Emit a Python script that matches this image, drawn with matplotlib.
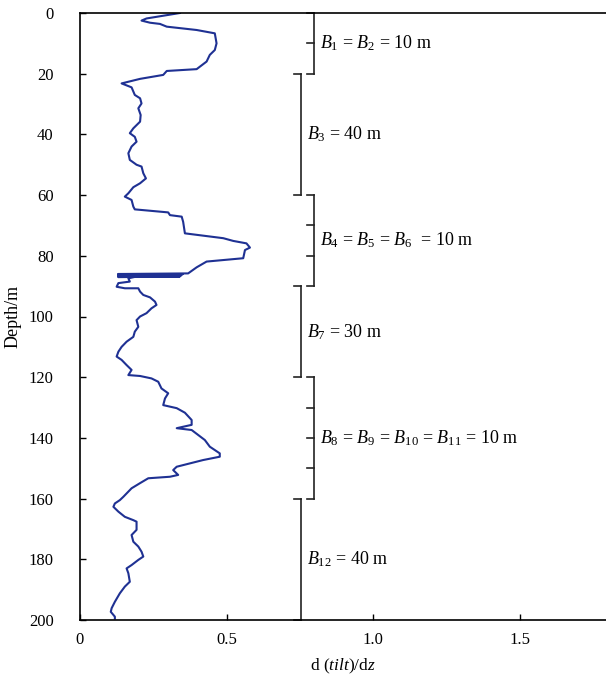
import matplotlib
matplotlib.use("Agg")
import matplotlib.pyplot as plt

plt.rcParams['font.family'] = ['Liberation Serif', 'DejaVu Serif']
plt.rcParams['mathtext.fontset'] = 'custom'
plt.rcParams['mathtext.rm'] = 'Liberation Serif'
plt.rcParams['mathtext.it'] = 'Liberation Serif:italic'

# d(tilt)/dz profile
depth = [0, 1.8, 2.5, 3.2, 3.6, 4.5, 5.6, 6.7, 10, 12.2, 13.8, 16, 18.5, 19.1, 20.4,
         21.7, 23.2, 24.5, 27, 28.1, 29.8, 31.4, 33.6, 35.8, 38, 39.6, 40.8, 42.4,
         44, 46.2, 48.4, 50, 50.6, 52.8, 54.5, 56.1, 57.4, 59.4, 60.5, 61.6, 63.8,
         64.7, 65.7, 66.6, 67.1, 68.8, 72.6, 74.2, 75.1, 75.9, 77.3, 78.1, 80.8,
         81.9, 83.8, 85.8,
         86.0, 86.1, 86.2, 86.3, 86.4, 86.5, 86.6, 86.7, 86.8, 86.9, 87.0, 86.9,
         86.8, 86.7, 87.4,
         88.5, 89, 90.2, 90.7, 90.7, 91.8, 92.9, 93.7, 95.1, 96.2, 97.3, 98.9,
         100, 101.2, 103.4, 105, 106.7, 108.3, 110, 111.6, 113.2, 114.3, 116,
         117.6, 119.3, 119.6, 120.4, 121.5, 123.7, 125.3, 127, 129.2, 130.2, 131.7,
         134.1, 135.7, 136.8, 137.4, 139, 140.7, 142.9, 145.1, 146.2, 147.3, 148.4,
         149.5, 150.6, 152.2, 152.8, 153.3, 154.9, 156.6, 158.3, 159.4, 160.5,
         161.6, 162.7, 164.3, 166, 167.1, 167.6, 170.3, 172, 174.2, 175.8, 177.5,
         179.1, 180.2, 181.9, 183, 184.6, 187.4, 189, 191.2, 194, 196.1, 197.3,
         198.9, 199.5]
value = [0.341, 0.227, 0.21, 0.239, 0.273, 0.296, 0.398, 0.46, 0.466, 0.46, 0.443,
         0.432, 0.398, 0.296, 0.284, 0.205, 0.142, 0.176, 0.187, 0.205, 0.21, 0.199,
         0.207, 0.205, 0.182, 0.17, 0.187, 0.193, 0.176, 0.165, 0.17, 0.193, 0.21,
         0.216, 0.225, 0.205, 0.182, 0.165, 0.153, 0.176, 0.182, 0.187, 0.301,
         0.307, 0.347, 0.352, 0.358, 0.489, 0.523, 0.568, 0.58, 0.563, 0.557,
         0.432, 0.398, 0.369,
         0.13, 0.35, 0.13, 0.34, 0.14, 0.345, 0.13, 0.33, 0.135, 0.34, 0.13, 0.32,
         0.14, 0.2, 0.165,
         0.17, 0.131, 0.125, 0.153, 0.199, 0.205, 0.216, 0.239, 0.256, 0.261, 0.244,
         0.227, 0.205, 0.193, 0.199, 0.187, 0.182, 0.159, 0.142, 0.131, 0.125,
         0.142, 0.159, 0.176, 0.165, 0.205, 0.244, 0.267, 0.278, 0.301, 0.29, 0.284,
         0.33, 0.358, 0.381, 0.381, 0.33, 0.381, 0.403, 0.426, 0.443, 0.477, 0.477,
         0.42, 0.375, 0.33, 0.318, 0.335, 0.307, 0.233, 0.205, 0.176, 0.159, 0.148,
         0.136, 0.119, 0.114, 0.131, 0.153, 0.182, 0.193, 0.193, 0.176, 0.182,
         0.199, 0.21, 0.216, 0.199, 0.176, 0.159, 0.165, 0.17, 0.153, 0.136, 0.119,
         0.108, 0.105, 0.119, 0.119]

# brackets: (top, bottom, sub-length, label)
seg_top = [0, 20, 60, 90, 120, 160]
seg_bot = [20, 60, 90, 120, 160, 200]
seg_step = [10, 40, 10, 30, 10, 40]
seg_label = [r"$B_1$ = $B_2$ = 10 m",
             r"$B_3$ = 40 m",
             r"$B_4$ = $B_5$ = $B_6$  = 10 m",
             r"$B_7$ = 30 m",
             r"$B_8$ = $B_9$ = $B_{10}$ = $B_{11}$ = 10 m",
             r"$B_{12}$ = 40 m"]

fig = plt.figure(figsize=(6.06, 6.77), dpi=100)
ax = fig.add_axes([80/606, 1 - 620/677, 526/606, 607/677])

ax.plot(value, depth, color='#1f3193', linewidth=1.5)

# bracket drawing
for i in range(len(seg_top)):
    xb = 0.80 if i % 2 == 0 else 0.755
    t, b, s = seg_top[i], seg_bot[i], seg_step[i]
    ax.plot([xb, xb], [t, b], color='#222222', lw=1.2, clip_on=False)
    d = t
    while d <= b:
        ax.plot([xb - 0.026, xb], [d, d], color='#222222', lw=1.2, clip_on=False)
        d += s
    ax.text(xb + 0.018, (t + b) / 2, seg_label[i], fontsize=13, va='center', ha='left')

ax.set_xlim(0, 1.795)
ax.set_ylim(200, 0)
ax.set_yticks(range(0, 201, 20))
ax.set_xticks([0, 0.5, 1.0, 1.5])
ax.set_xticklabels(['0', '0.5', '1.0', '1.5'])
ax.tick_params(direction='in', length=4, labelsize=12, width=1)
ax.tick_params(axis='y', pad=19)
ax.tick_params(axis='x', pad=9)
ax.spines['right'].set_visible(False)
for sp in ['left', 'top', 'bottom']:
    ax.spines[sp].set_linewidth(1.2)

ax.set_xlabel(r"d ($\mathit{tilt}$)/d$z$", fontsize=12.5, labelpad=6)
ax.set_ylabel("Depth/m", fontsize=13, labelpad=5)

plt.savefig("out.png", dpi=100)
plt.close()
